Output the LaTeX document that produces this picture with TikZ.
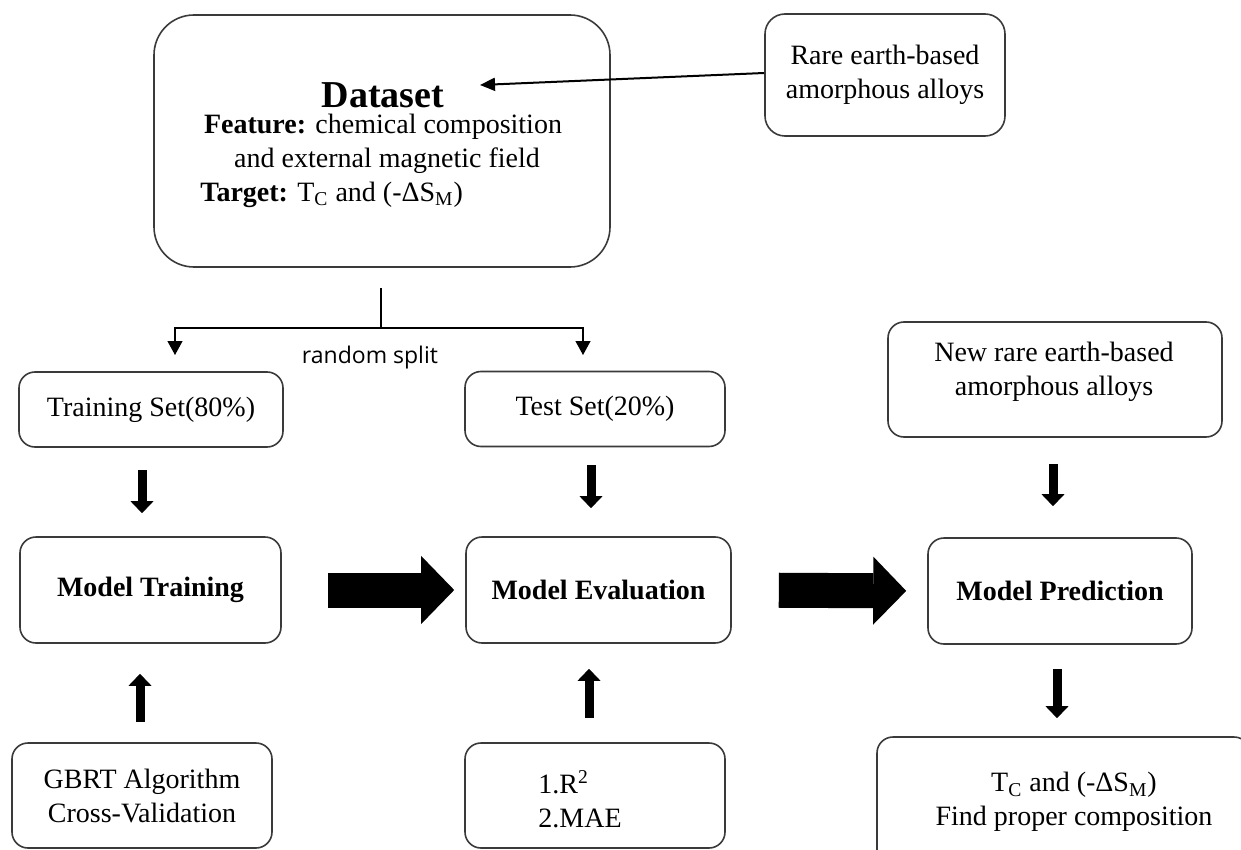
\documentclass[tikz,border=0pt]{standalone}
\usepackage{fontspec}
\setmainfont{Liberation Serif}
\newfontfamily\splitfont{Open Sans}
\usetikzlibrary{arrows.meta}
\definecolor{boxgray}{HTML}{3A3A3A}
\begin{document}
\begin{tikzpicture}[x=0.5pt,y=-0.5pt,
  box/.style={draw=boxgray, line width=0.8pt, rounded corners=8pt, inner sep=0pt,
    font=\fontsize{14pt}{17pt}\selectfont, align=center},
  txt/.style={font=\fontsize{14pt}{17pt}\selectfont, inner sep=0pt},
  smallarr/.style={line width=4.5pt, -{Triangle[length=6pt,width=11.5pt,line width=0pt]}},
  bigarr/.style={line width=17.5pt, -{Triangle[length=16.5pt,width=34pt,line width=0pt]}},
  thinarr/.style={line width=0.6pt, -{Triangle[length=7pt,width=7.5pt]}}]
\useasboundingbox (0,0) rectangle (1241,850);
\clip (0,0) rectangle (1241,850);

% Dataset box
\node[box, rounded corners=20pt, minimum width=228pt, minimum height=126pt] (dataset) at (382,141) {};
\node[txt, font=\fontsize{19pt}{22pt}\selectfont\bfseries] (dstitle) at (383,95) {Dataset};
\node[txt] (dsfeat) at (383,127) {\textbf{Feature:} chemical composition};
\node[txt] (dsext) at (387,161) {and external magnetic field};
\node[txt, anchor=west] (dstarget) at (200,195) {\textbf{Target:} T\textsubscript{C} and (-ΔS\textsubscript{M})};

% Rare earth box
\node[box, rounded corners=10pt, minimum width=120pt, minimum height=61pt] (rare) at (885,75) {Rare earth-based\\amorphous alloys};
\coordinate (dsin) at (480,85);
\draw[line width=1pt, -{Triangle[length=7.5pt,width=6.5pt]}] ([yshift=1pt]rare.west) -- (dsin);

% split
\coordinate (s0) at (381,288);
\coordinate (s1) at (381,328);
\coordinate (sl) at (175,355);
\coordinate (sr) at (583,355);
\draw[line width=0.6pt] (s0) -- (s1);
\draw[thinarr] (s1) -| (sl);
\draw[thinarr] (s1) -| (sr);
\node[font=\splitfont\fontsize{11.5pt}{14pt}\selectfont, inner sep=0pt] (splitlbl) at (370,358) {random split};

% second row
\node[box, minimum width=132pt, minimum height=37.5pt] (trainset) at (151,409.5) {Training Set(80\%)};
\node[box, minimum width=130pt, minimum height=37.5pt] (testset) at (595,409) {Test Set(20\%)};
\node[box, minimum width=167pt, minimum height=57.5pt] (newrare) at (1055,379.5) {};
\node[txt, align=center] (newraretext) at (1054,371.5) {New rare earth-based\\amorphous alloys};

% model row
\node[box, minimum width=130.5pt, minimum height=53pt, font=\fontsize{14pt}{17pt}\selectfont\bfseries] (mtrain) at (150.5,590) {Model Training};
\node[box, minimum width=132.5pt, minimum height=53pt, font=\fontsize{14pt}{17pt}\selectfont\bfseries] (meval) at (598.5,590) {Model Evaluation};
\node[box, minimum width=132pt, minimum height=53pt, font=\fontsize{14pt}{17pt}\selectfont\bfseries] (mpred) at (1060,591) {Model Prediction};

% bottom row
\node[box, minimum width=130pt, minimum height=52.5pt] (gbrt) at (142,795.5) {GBRT Algorithm\\Cross-Validation};
\node[box, minimum width=130pt, minimum height=52.5pt] (metrics) at (595,795.5) {};
\node[txt, anchor=west, align=left] (mettext) at (538,799) {1.R\textsuperscript{2}\\2.MAE};
\node[box, minimum width=186.5pt, minimum height=71.5pt] (result) at (1063.5,808.5) {};
\node[txt, align=center] (restext) at (1074,802) {T\textsubscript{C} and (-ΔS\textsubscript{M})\\Find proper composition};

% small arrows
\draw[smallarr, shorten <=11pt, shorten >=11.5pt] ([xshift=-4.5pt]trainset.south) -- ([xshift=-4.5pt]trainset.south |- mtrain.north);
\draw[smallarr, shorten <=9pt, shorten >=14pt] ([xshift=-2pt]testset.south) -- ([xshift=-2pt]testset.south |- meval.north);
\draw[smallarr, shorten <=13pt, shorten >=15.5pt] ([xshift=-1pt]newrare.south) -- ([xshift=-1pt]newrare.south |- mpred.north);
\draw[smallarr, shorten <=10pt, shorten >=15pt] ([xshift=-1pt]gbrt.north) -- ([xshift=-1pt]gbrt.north |- mtrain.south);
\draw[smallarr, shorten <=12pt, shorten >=12.5pt] ([xshift=-3pt]metrics.north) -- ([xshift=-3pt]metrics.north |- meval.south);
\draw[smallarr, shorten <=12pt, shorten >=9pt] ([xshift=-1.5pt]mpred.south) -- ([xshift=-1.5pt]mpred.south |- result.north);

% big arrows
\draw[bigarr, shorten <=23pt, shorten >=5.5pt] (mtrain.east) -- (meval.west);
\draw[bigarr, shorten <=23.5pt, shorten >=10.5pt] (meval.east) -- (mpred.west);
\end{tikzpicture}
\end{document}
